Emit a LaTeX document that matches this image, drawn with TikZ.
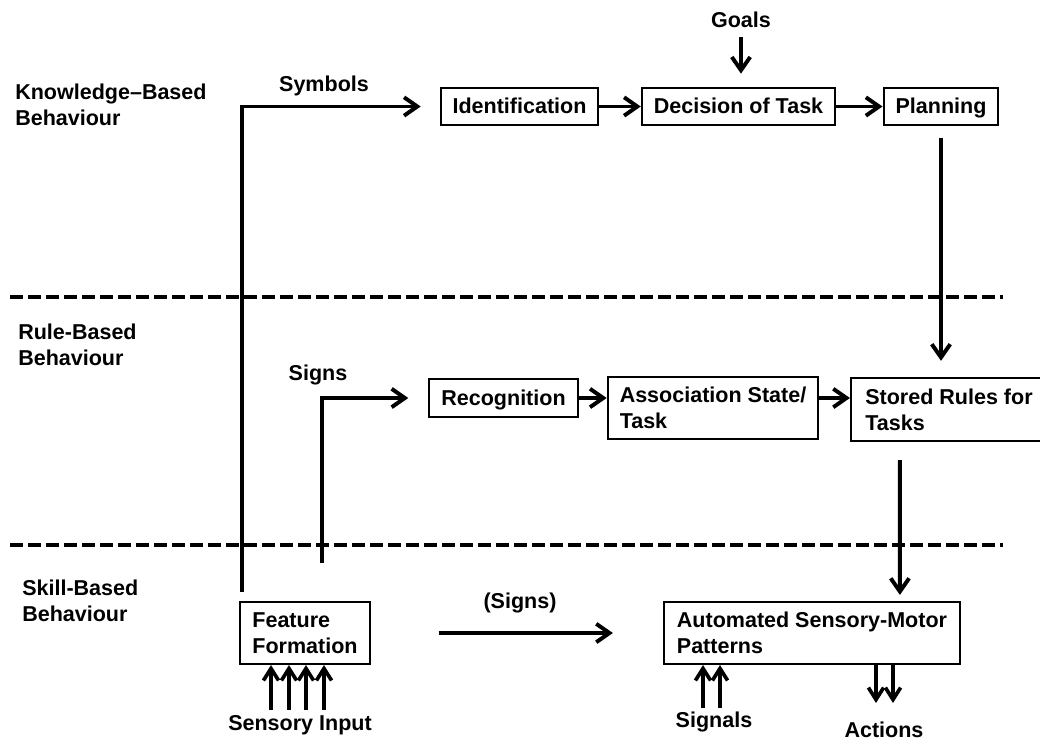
\documentclass[tikz,border=0pt]{standalone}
\usepackage{fontspec}
\setmainfont{Liberation Sans}
\usetikzlibrary{arrows.meta,calc}
\tikzset{
    lbl/.style={font=\fontsize{15.3}{18.4}\selectfont\bfseries, inner sep=0pt},
    box/.style={lbl, draw=black, line width=1.5pt, inner xsep=0.3cm},
    onebox/.style={box, text height=11pt, text depth=0.5pt},
    arr/.style={line width=2.8pt, -{Straight Barb[length=3.3mm,width=4.6mm]}},
    sarr/.style={line width=2.6pt, -{Straight Barb[length=3mm,width=3.8mm]}},
    level/.style={line width=2.8pt, dash pattern=on 0.32cm off 0.13cm},
}
\begin{document}
\begin{tikzpicture}[x=0.025cm,y=-0.025cm]
                \useasboundingbox (0,0) rectangle (1040,744);
                \draw[level] (10,297) -- (1003,297);
                \draw[level] (10,545) -- (1003,545);

                \node[lbl, anchor=west, align=left] (kb) at (15,105) {Knowledge–Based\\Behaviour};
                \node[lbl, anchor=west, align=left] (rb) at (18,345) {Rule-Based\\Behaviour};
                \node[lbl, anchor=west, align=left] (sb) at (22,601) {Skill-Based\\Behaviour};

                \node[onebox, minimum width=3.93cm, minimum height=0.93cm] (ident) at (519.5,106.5) {Identification};
                \node[onebox, minimum width=4.73cm, minimum height=0.93cm] (decide) at (738.5,106.5) {Decision of Task};
                \node[onebox, minimum width=2.85cm, minimum height=0.93cm] (plan) at (941,106.5) {Planning};
                \node[onebox, minimum width=3.63cm, minimum height=0.95cm] (recog) at (503.5,398) {Recognition};
                \node[box, align=left, minimum width=5.2cm, minimum height=1.55cm] (assoc) at (713,408) {Association State/\\Task};
                \node[box, align=left, minimum width=4.9cm, minimum height=1.58cm] (stored) at (949,409.5) {Stored Rules for\\Tasks};
                \node[box, align=left, minimum width=3.2cm, minimum height=1.55cm] (feature) at (305,633) {Feature\\Formation};
                \node[box, align=left, minimum width=7.4cm, minimum height=1.55cm] (auto) at (812,633) {Automated Sensory-Motor\\Patterns};

                \node[lbl] (goals) at (741,20) {Goals};
                \node[lbl] (symbols) at (324,86) {Symbols};
                \node[lbl] (signs) at (318,375) {Signs};
                \node[lbl] (signs2) at (520,603) {(Signs)};
                \node[lbl] (sensory) at (300,725) {Sensory Input};
                \node[lbl] (signals) at (714,722) {Signals};
                \node[lbl] (actions) at (884,730) {Actions};

                \coordinate (symfoot) at (242,592);
                \coordinate (signfoot) at (322,563);
                \draw[arr, shorten >=0.47cm] (symfoot) |- (ident.west);
                \draw[arr, shorten >=0.5cm] (signfoot) |- (recog.west);
                \draw[arr] (ident) -- (decide);
                \draw[arr] (decide) -- (plan);
                \draw[arr] (recog) -- (assoc.west |- recog);
                \draw[arr] (assoc.east |- recog) -- (stored.west |- recog);
                \draw[arr, shorten <=0.22cm, shorten >=0.33cm] (goals) -- (goals |- decide.north);
                \draw[arr, shorten <=0.3cm, shorten >=0.4cm] (plan) -- (plan |- stored.north);
                \draw[arr, shorten <=0.45cm, shorten >=0.15cm] ($(stored.south west)+(50,0)$) -- ($(auto.north west)+(237,0)$);
                \draw[arr, shorten <=1.7cm, shorten >=1.25cm] (feature.east) -- (feature.east -| auto.west);

                \foreach[count=\i] \x in {271,289,306,324}
                {
                    \coordinate (s\i) at (\x,710);
                    \draw[sarr] (s\i) -- (s\i |- feature.south);
                }
                \foreach[count=\i] \x in {703,720}
                {
                    \coordinate (g\i) at (\x,708);
                    \draw[sarr] (g\i) -- (g\i |- auto.south);
                }
                \foreach[count=\i] \x in {876,893}
                {
                    \coordinate (a\i) at (\x,703);
                    \draw[sarr] (a\i |- auto.south) -- (a\i);
                }
            \end{tikzpicture}
\end{document}
